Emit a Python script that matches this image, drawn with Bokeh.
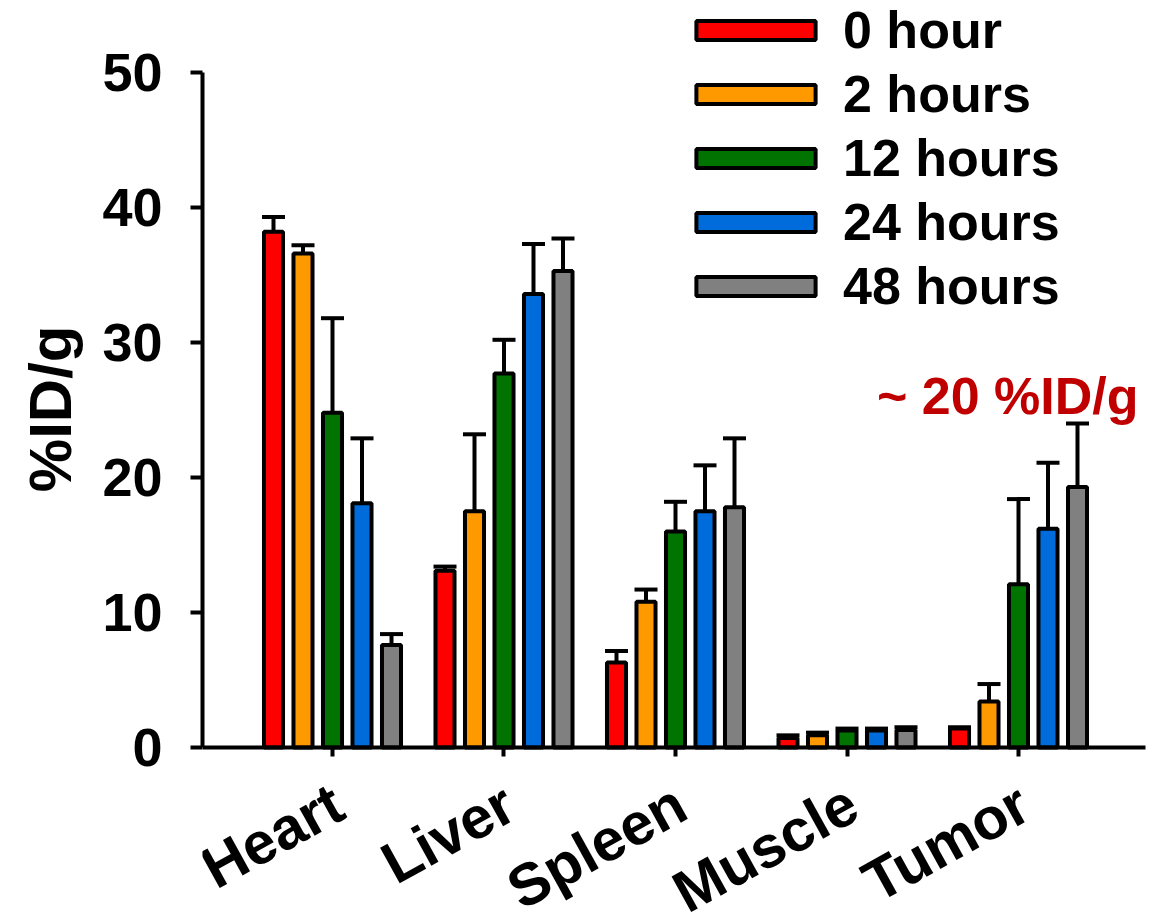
from bokeh.plotting import figure
from bokeh.models import (ColumnDataSource, Range1d, LinearAxis, FixedTicker, Whisker,
                          TeeHead, Legend, LegendItem, Label, LabelSet, Title)
from bokeh.core.properties import value
from bokeh.embed import file_html
from bokeh.resources import INLINE

organs = ["Heart", "Liver", "Spleen", "Muscle", "Tumor"]
series = ["0 hour", "2 hours", "12 hours", "24 hours", "48 hours"]
colors = ["#FF0000", "#FF9900", "#007300", "#006BDB", "#808080"]

h0 = [38.2, 13.1, 6.3, 0.7, 1.4]
h0_err = [1.1, 0.3, 0.85, 0.2, 0.1]
h2 = [36.6, 17.5, 10.8, 0.9, 3.4]
h2_err = [0.6, 5.7, 0.9, 0.2, 1.3]
h12 = [24.8, 27.7, 16.0, 1.25, 12.1]
h12_err = [7.0, 2.5, 2.2, 0.15, 6.3]
h24 = [18.1, 33.6, 17.5, 1.25, 16.2]
h24_err = [4.8, 3.7, 3.4, 0.15, 4.9]
h48 = [7.6, 35.3, 17.8, 1.3, 19.3]
h48_err = [0.8, 2.4, 5.1, 0.2, 4.7]

values = [h0, h2, h12, h24, h48]
errors = [h0_err, h2_err, h12_err, h24_err, h48_err]

y_ticks = [0, 10, 20, 30, 40, 50]
y_label = "%ID/g"
annotation = "~ 20 %ID/g"

FONT = "Liberation Sans"
BAR_PITCH = 0.172
BAR_WIDTH = 0.111

# frame covers the whole canvas height so that legend and category names are not clipped
p = figure(width=1152, height=923,
           x_range=Range1d(-0.758, 4.758), y_range=Range1d(-13.037, 55.333),
           output_backend="svg", toolbar_location=None,
           x_axis_type=None, y_axis_type=None,
           min_border_left=202, min_border_right=4, min_border_top=0, min_border_bottom=0)
p.outline_line_color = None
p.background_fill_color = "white"
p.border_fill_color = "white"

yaxis = LinearAxis(bounds=(0, 50), ticker=FixedTicker(ticks=y_ticks))
p.add_layout(yaxis, "left")
p.add_layout(Title(text=y_label, align="right", vertical_align="top", offset=325,
                   text_font=FONT, text_font_style="bold", text_font_size="60px",
                   text_color="black", standoff=28), "left")

# x axis drawn at y = 0, ticks pointing down
xaxis = LinearAxis(ticker=FixedTicker(ticks=list(range(len(organs)))),
                   fixed_location=0, bounds=(-0.758, 4.74),
                   major_label_overrides={i: "" for i in range(len(organs))})
p.add_layout(xaxis, "above")

for ax in (xaxis, yaxis):
    ax.axis_line_width = 4
    ax.axis_line_color = "black"
    ax.major_tick_line_width = 4
    ax.minor_tick_line_color = None
    ax.major_label_text_font = FONT
    ax.major_label_text_font_style = "bold"
    ax.major_label_text_color = "black"

yaxis.major_tick_in = 0
yaxis.major_tick_out = 12
yaxis.major_label_standoff = 28
yaxis.major_label_text_font_size = "54px"

xaxis.major_tick_in = 9
xaxis.major_tick_out = 0
xaxis.major_label_standoff = 0
xaxis.major_label_text_font_size = "1px"

# category names, anchored at each category's tick and rotated
cat_src = ColumnDataSource(dict(x=list(range(len(organs))), y=[0] * len(organs), text=organs))
p.add_layout(LabelSet(source=cat_src, x="x", y="y", text="text",
                      x_offset=6, y_offset=-52, angle=0.506,
                      text_align="right", text_baseline="middle",
                      text_font=value(FONT), text_font_style="bold",
                      text_font_size="59px", text_color="black"))

items = []
for i, (name, vals, errs, col) in enumerate(zip(series, values, errors, colors)):
    xs = [j + (i - 2) * BAR_PITCH for j in range(len(organs))]
    src = ColumnDataSource(dict(x=xs, top=vals, upper=[v + e for v, e in zip(vals, errs)]))
    w = Whisker(source=src, base="x", lower="top", upper="upper", dimension="height",
                line_width=4, line_color="black",
                upper_head=TeeHead(size=23, line_width=4, line_color="black"),
                lower_head=None)
    p.add_layout(w)
    r = p.vbar(x="x", top="top", bottom=0, width=BAR_WIDTH, source=src,
               fill_color=col, line_color="black", line_width=4)
    items.append(LegendItem(label=name, renderers=[r]))

legend = Legend(items=items, location=(479, 607),
                label_text_font=FONT, label_text_font_style="bold",
                label_text_font_size="52px", label_text_color="black",
                glyph_width=149, glyph_height=24, label_standoff=13,
                label_height=56, spacing=4, padding=0, margin=0,
                border_line_color=None, background_fill_alpha=0)
p.add_layout(legend, "center")

p.add_layout(Label(x=4.70, y=26.0, text=annotation, text_align="right",
                   text_baseline="alphabetic", text_font=FONT,
                   text_font_style="bold", text_font_size="52px",
                   text_color="#C00000"))

open("out.html", "w").write(file_html(p, INLINE))
